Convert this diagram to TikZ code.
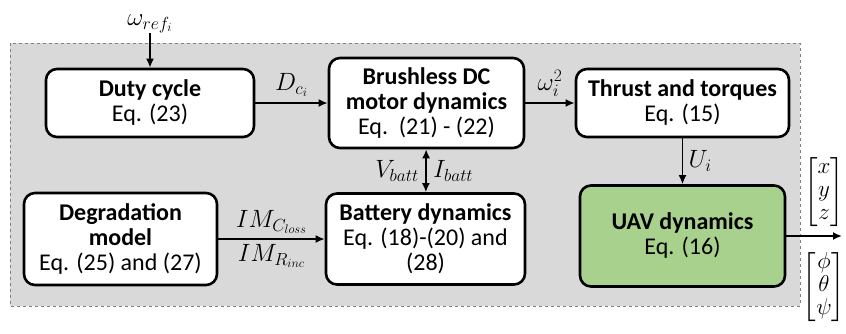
\documentclass[tikz,border=0pt]{standalone}
\usepackage{fix-cm}
\usepackage{amsmath,amssymb}
\usepackage{fontspec}
\setmainfont{Carlito}
\usetikzlibrary{arrows.meta}
\definecolor{panelgray}{RGB}{217,217,217}
\definecolor{uavgreen}{RGB}{169,209,142}
\begin{document}
\begin{tikzpicture}[x=1pt,y=-1pt,
  block/.style={draw,line width=2.6pt,rounded corners=11pt,fill=white,
    align=center,inner sep=1pt,font=\fontsize{24}{25}\selectfont},
  link/.style={line width=1.8pt,-{Latex[length=9pt,width=8pt]}},
  lab/.style={font=\fontsize{25}{28}\selectfont},
  vec/.style={inner sep=0pt,font=\fontsize{23}{23}\selectfont}]
  \useasboundingbox (0,0) rectangle (846,333);
  % 1. the grey panel behind the blocks
  \draw[gray,dashed,line width=0.8pt,fill=panelgray] (10,43) rectangle (800,306);
  % 2. the blocks
  \node[block,minimum width=208pt,minimum height=68pt] (duty) at (150,103)
    {\textbf{Duty cycle}\\Eq. (23)};
  \node[block,minimum width=195pt,minimum height=90pt] (motor) at (426.5,103)
    {\textbf{Brushless DC}\\\textbf{motor dynamics}\\Eq.\ \ (21) - (22)};
  \node[block,minimum width=213pt,minimum height=68pt] (thrust) at (682.5,103)
    {\textbf{Thrust and torques}\\Eq. (15)};
  \node[block,minimum width=193pt,minimum height=92pt] (degr) at (120.5,239)
    {\textbf{Degradation}\\\textbf{model}\\Eq. (25) and (27)};
  \node[block,minimum width=199pt,minimum height=91pt] (batt) at (425.5,239)
    {\textbf{Battery dynamics}\\Eq. (18)-(20) and\\(28)};
  \node[block,fill=uavgreen,minimum width=205pt,minimum height=101pt] (uav) at (682.5,236)
    {\textbf{UAV dynamics}\\Eq. (16)};
  % 3. input and output points
  \coordinate (wref) at (150,33);
  \coordinate (out) at (842,236);
  \node[lab,above=-3pt] at (wref) {$\omega_{ref_i}$};
  % 4. the connectors
  \draw[link] (wref) -- (duty);
  \draw[link] (duty) -- node[lab,above=2pt] {$D_{c_i}$} (motor);
  \draw[link] (motor) -- node[lab,above=2pt] {$\omega_i^2$} (thrust);
  \draw[link] (thrust) -- node[lab,right=2pt] {$U_i$} (uav);
  \draw[line width=1.8pt,{Latex[length=9pt,width=8pt]}-{Latex[length=9pt,width=8pt]}]
    (motor) -- node[lab,left=3pt] {$V_{batt}$} node[lab,right=3pt] {$I_{batt}$} (batt);
  \draw[link] (degr) -- node[lab,above=1pt] {$IM_{C_{loss}}$}
    node[lab,below=1pt] {$IM_{R_{inc}}$} (batt);
  \draw[link] (uav.east |- out) -- (out);
  % 5. the state vectors
  \node[vec] (pos) at (824,192)
    {$\arraycolsep=1.5pt\begin{bmatrix}x\\y\\z\end{bmatrix}$};
  \node[vec] (att) at (824,287)
    {$\arraycolsep=1.5pt\begin{bmatrix}\phi\\\theta\\\psi\end{bmatrix}$};
\end{tikzpicture}
\end{document}
